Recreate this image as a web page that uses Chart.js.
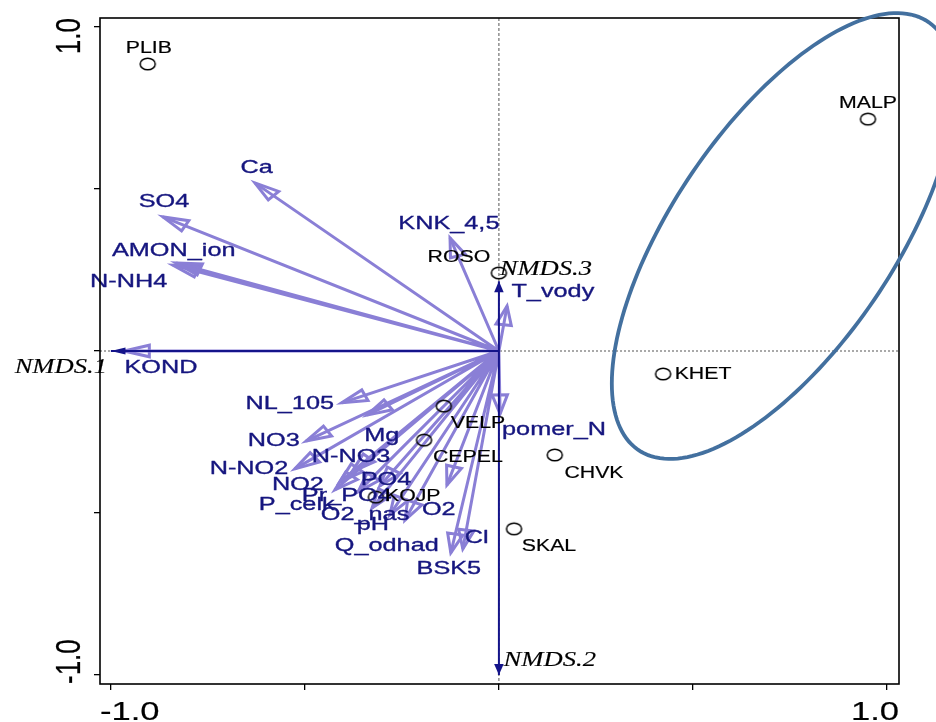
<!DOCTYPE html>
<html>
<head>
<meta charset="utf-8">
<script src="https://cdn.jsdelivr.net/npm/chart.js@4.4.1/dist/chart.umd.min.js"></script>
<style>
    html, body { margin: 0; padding: 0; background: #fff; }
</style>
</head>
<body>
<canvas id="nmdsChart" width="936" height="722"></canvas>
<script>
// NMDS ordination biplot: sites, fitted environmental vectors, group ellipse

// Sites (open circles)
const siteNames = ['PLIB', 'MALP', 'ROSO', 'KHET', 'VELP', 'CEPEL', 'CHVK', 'SKAL', 'KOJP'];
const siteX = [-0.905, 0.951, 0.000, 0.423, -0.142, -0.193, 0.144, 0.039, -0.317];
const siteY = [0.886, 0.716, 0.241, -0.071, -0.170, -0.275, -0.321, -0.549, -0.451];
const siteLabelX = [-0.902, 0.951, -0.103, 0.526, -0.054, -0.080, 0.245, 0.129, -0.222];
const siteLabelY = [0.935, 0.765, 0.287, -0.074, -0.225, -0.330, -0.380, -0.605, -0.451];

// Environmental vectors (arrow tips)
const varNames = ['KOND', 'N-NH4', 'AMON_ion', 'SO4', 'Ca', 'KNK_4,5', 'T_vody', 'pomer_N',
    'NL_105', 'Mg', 'NO3', 'N-NO2', 'N-NO3', 'NO2', 'P_celk', 'Pr_PO4', 'PO4',
    'O2_nas', 'pH', 'Q_odhad', 'O2', 'Cl', 'BSK5'];
const varX = [-0.966, -0.840, -0.832, -0.866, -0.629, -0.126, 0.021, 0.003,
    -0.405, -0.340, -0.497, -0.526, -0.379, -0.410, -0.423, -0.363, -0.307,
    -0.327, -0.281, -0.242, -0.134, -0.093, -0.124];
const varY = [0.000, 0.265, 0.272, 0.414, 0.519, 0.349, 0.139, -0.194,
    -0.160, -0.198, -0.278, -0.364, -0.373, -0.404, -0.429, -0.435, -0.417,
    -0.485, -0.506, -0.522, -0.414, -0.611, -0.623];
const varLabelX = [-0.871, -0.954, -0.838, -0.863, -0.624, -0.129, 0.139, 0.142,
    -0.539, -0.302, -0.580, -0.644, -0.381, -0.518, -0.521, -0.392, -0.291,
    -0.345, -0.325, -0.289, -0.155, -0.057, -0.129];
const varLabelY = [-0.052, 0.213, 0.309, 0.460, 0.565, 0.392, 0.182, -0.244,
    -0.164, -0.262, -0.278, -0.364, -0.327, -0.414, -0.475, -0.448, -0.398,
    -0.506, -0.537, -0.602, -0.491, -0.577, -0.673];

// Ordination axes shown as vectors
const axisNames = ['NMDS.1', 'NMDS.2', 'NMDS.3'];
const axisX = [-1.0, 0.0, 0.0];
const axisY = [0.0, -1.0, 0.215];
const axisLabelX = [-1.129, 0.131, 0.121];
const axisLabelY = [-0.052, -0.957, 0.250];

// Group ellipse: centre and covariance (xx, xy, yy)
const ellipseCentre = [0.733, 0.355];
const ellipseCov = [0.1954, 0.2013, 0.4737];

const tickValues = [-1, -0.5, 0, 0.5, 1];
const tickLabels = ['-1.0', '', '', '', '1.0'];

const colors = {
    vector: '#8a7fd6',
    vectorText: '#16167f',
    axis: '#14148a',
    site: '#000000',
    ellipse: '#43709f',
    zero: '#555555'
};

// the source figure is stretched horizontally
const STRETCH = 1.33;
const SANS = '"Liberation Sans", Arial, sans-serif';
const SERIF = '"Liberation Serif", "Times New Roman", serif';

function ringImage(rx, ry) {
    const c = document.createElement('canvas');
    c.width = Math.ceil(rx * 2 + 4);
    c.height = Math.ceil(ry * 2 + 4);
    const g = c.getContext('2d');
    g.strokeStyle = colors.site;
    g.lineWidth = 1.5;
    g.beginPath();
    g.ellipse(c.width / 2, c.height / 2, rx, ry, 0, 0, Math.PI * 2);
    g.stroke();
    return c;
}

function segments(xs, ys) {
    const out = [];
    xs.forEach((x, i) => {
        out.push({x: 0, y: 0}, {x: x, y: ys[i]}, {x: 0, y: null});
    });
    return out;
}

function stretchedText(ctx, text, x, y, font, color, rotate, weight) {
    ctx.save();
    ctx.translate(x, y);
    ctx.scale(STRETCH, 1);
    if (rotate) ctx.rotate(rotate);
    ctx.font = font;
    ctx.fillStyle = color;
    ctx.strokeStyle = color;
    ctx.lineWidth = weight || 0.3;
    ctx.lineJoin = 'round';
    ctx.textAlign = 'center';
    ctx.textBaseline = rotate ? 'alphabetic' : 'middle';
    ctx.fillText(text, 0, 0);
    ctx.strokeText(text, 0, 0);
    ctx.restore();
}

// arrow head drawn in unstretched space, then stretched like the figure
function arrowHead(ctx, x0, y0, x1, y1, len, half, filled) {
    const dx = (x1 - x0) / STRETCH, dy = y1 - y0;
    const d = Math.hypot(dx, dy) || 1;
    const ux = dx / d, uy = dy / d;
    const pts = [
        [0, 0],
        [-len * ux + half * uy, -len * uy - half * ux],
        [-len * ux - half * uy, -len * uy + half * ux]
    ];
    ctx.beginPath();
    pts.forEach((p, i) => {
        const px = x1 + p[0] * STRETCH, py = y1 + p[1];
        if (i === 0) ctx.moveTo(px, py); else ctx.lineTo(px, py);
    });
    ctx.closePath();
    if (filled) ctx.fill(); else ctx.stroke();
}

const biplotPlugin = {
    id: 'biplot',
    beforeDatasetsDraw(chart) {
        const {ctx, chartArea: a, scales: {x, y}} = chart;
        const x0 = x.getPixelForValue(0), y0 = y.getPixelForValue(0);
        ctx.save();
        ctx.strokeStyle = colors.zero;
        ctx.lineWidth = 1;
        ctx.setLineDash([3, 2]);
        ctx.beginPath();
        ctx.moveTo(x0, a.top);
        ctx.lineTo(x0, a.bottom);
        ctx.stroke();
        ctx.setLineDash([2, 2]);
        ctx.beginPath();
        ctx.moveTo(a.left, y0);
        ctx.lineTo(a.right, y0);
        ctx.stroke();
        ctx.restore();
    },
    afterDatasetDraw(chart, args) {
        const {ctx, scales: {x, y}} = chart;
        const ds = chart.data.datasets[args.index];
        const ox = x.getPixelForValue(0), oy = y.getPixelForValue(0);
        ctx.save();
        if (ds.label === 'vectors') {
            ctx.strokeStyle = colors.vector;
            ctx.lineWidth = 3;
            ctx.lineJoin = 'miter';
            varX.forEach((vx, i) => {
                arrowHead(ctx, ox, oy, x.getPixelForValue(vx), y.getPixelForValue(varY[i]), 19, 5.8, false);
            });
        } else if (ds.label === 'axes') {
            ctx.fillStyle = colors.axis;
            axisX.forEach((ax, i) => {
                arrowHead(ctx, ox, oy, x.getPixelForValue(ax), y.getPixelForValue(axisY[i]), 11, 3.6, true);
            });
        }
        ctx.restore();
    },
    afterDatasetsDraw(chart) {
        const {ctx, chartArea: a, scales: {x, y}} = chart;

        varNames.forEach((name, i) => {
            stretchedText(ctx, name, x.getPixelForValue(varLabelX[i]), y.getPixelForValue(varLabelY[i]),
                '19px ' + SANS, colors.vectorText, 0, 0.35);
        });
        siteNames.forEach((name, i) => {
            stretchedText(ctx, name, x.getPixelForValue(siteLabelX[i]), y.getPixelForValue(siteLabelY[i]),
                '16px ' + SANS, colors.site, 0, 0.2);
        });
        axisNames.forEach((name, i) => {
            stretchedText(ctx, name, x.getPixelForValue(axisLabelX[i]), y.getPixelForValue(axisLabelY[i]),
                'italic 20px ' + SERIF, '#000', 0, 0.15);
        });

        // plot box
        ctx.save();
        ctx.strokeStyle = '#000';
        ctx.lineWidth = 1.6;
        ctx.strokeRect(a.left, a.top, a.right - a.left, a.bottom - a.top);

        // tick labels, end labels kept inside the plot range
        const font = '26px ' + SANS;
        ctx.font = font;
        tickValues.forEach((v, i) => {
            const t = tickLabels[i];
            if (!t) return;
            const w = ctx.measureText(t).width;
            let cx = x.getPixelForValue(v);
            const hw = w * STRETCH / 2;
            cx = Math.min(Math.max(cx, a.left + hw), a.right - hw);
            stretchedText(ctx, t, cx, 720, font, '#000', 0.0000001, 0.2);
            let cy = y.getPixelForValue(v);
            cy = Math.min(Math.max(cy, a.top + w / 2), a.bottom - w / 2);
            stretchedText(ctx, t, 80, cy, font, '#000', -Math.PI / 2, 0.2);
        });
        ctx.restore();
    },
    afterDraw(chart) {
        const {ctx, scales: {x, y}} = chart;
        const l11 = Math.sqrt(ellipseCov[0]);
        const l21 = ellipseCov[1] / l11;
        const l22 = Math.sqrt(ellipseCov[2] - l21 * l21);
        ctx.save();
        ctx.strokeStyle = colors.ellipse;
        ctx.lineWidth = 3.8;
        ctx.beginPath();
        for (let k = 0; k <= 180; k++) {
            const t = k / 180 * Math.PI * 2;
            const ex = ellipseCentre[0] + l11 * Math.cos(t);
            const ey = ellipseCentre[1] + l21 * Math.cos(t) + l22 * Math.sin(t);
            const px = x.getPixelForValue(ex), py = y.getPixelForValue(ey);
            if (k === 0) ctx.moveTo(px, py); else ctx.lineTo(px, py);
        }
        ctx.closePath();
        ctx.stroke();
        ctx.restore();
    }
};

const axisOptions = (min, max, size, key) => ({
    type: 'linear',
    min: min,
    max: max,
    afterBuildTicks: s => { s.ticks = tickValues.map(v => ({value: v})); },
    afterFit: s => { s[key] = size; },
    ticks: { display: false },
    grid: {
        drawOnChartArea: false,
        drawTicks: true,
        tickLength: 6,
        color: '#000',
        lineWidth: 1.3
    },
    border: { display: false }
});

new Chart(document.getElementById('nmdsChart').getContext('2d'), {
    type: 'scatter',
    data: {
        datasets: [
            {
                label: 'axes',
                type: 'line',
                data: segments(axisX, axisY),
                borderColor: colors.axis,
                borderWidth: 2,
                pointRadius: 0,
                spanGaps: false,
                tension: 0
            },
            {
                label: 'sites',
                data: siteX.map((v, i) => ({x: v, y: siteY[i]})),
                pointStyle: ringImage(7.5, 5.8),
                pointRadius: 8
            },
            {
                label: 'vectors',
                type: 'line',
                data: segments(varX, varY),
                borderColor: colors.vector,
                borderWidth: 3,
                pointRadius: 0,
                spanGaps: false,
                tension: 0
            }
        ]
    },
    options: {
        responsive: false,
        animation: false,
        layout: { padding: { top: 18, right: 37, left: 0, bottom: 0 } },
        plugins: {
            legend: { display: false },
            tooltip: { enabled: false }
        },
        scales: {
            x: axisOptions(-1.028, 1.031, 38, 'height'),
            y: axisOptions(-1.028, 1.028, 100, 'width')
        }
    },
    plugins: [biplotPlugin]
});
</script>
</body>
</html>
